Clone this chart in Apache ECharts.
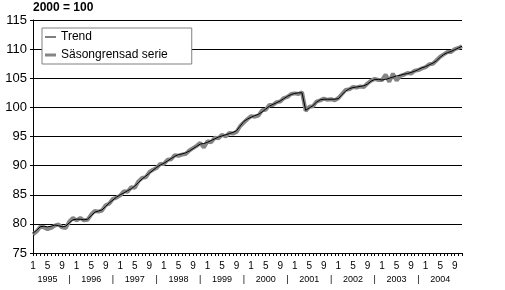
<!DOCTYPE html>
<html>
<head>
<meta charset="utf-8">
<script src="https://cdn.jsdelivr.net/npm/echarts@6/dist/echarts.min.js"></script>
<style>html,body{margin:0;padding:0;background:#fff;}#c{width:505px;height:290px;}</style>
</head>
<body>
<div id="c"></div>
<script>
// Monthly index, 1995/1 .. 2004/11 (2000 = 100)
var startYear = 1995;
var monthCount = 119;
var monthTickLabels = [1, 5, 9];
var yTicks = { min: 75, max: 115, step: 5 };

var trend = [
  78.4, 78.9, 79.5, 79.6, 79.5, 79.6, 79.8, 79.7, 79.5, 79.6, 80.2, 80.7,   // 1995
  80.8, 80.8, 80.7, 80.8, 81.4, 82.0, 82.2, 82.4, 83.0, 83.6, 84.1, 84.6,   // 1996
  85.0, 85.3, 85.7, 86.0, 86.5, 87.1, 87.7, 88.2, 88.7, 89.2, 89.7, 90.1,   // 1997
  90.4, 90.8, 91.2, 91.6, 91.9, 92.0, 92.2, 92.5, 92.9, 93.3, 93.7, 93.8,   // 1998
  94.0, 94.3, 94.6, 94.9, 95.1, 95.3, 95.5, 95.7, 96.0, 96.8, 97.6, 98.0,   // 1999
  98.3, 98.6, 98.8, 99.2, 99.7, 100.2, 100.5, 100.8, 101.1, 101.5, 101.9, 102.2, // 2000
  102.4, 102.5, 102.5, 99.5, 99.9, 100.3, 100.9, 101.3, 101.4, 101.4, 101.4, 101.4, // 2001
  101.5, 102.2, 102.8, 103.2, 103.4, 103.5, 103.6, 103.7, 104.0, 104.5, 104.8, 104.8, // 2002
  104.7, 104.8, 105.0, 105.2, 105.4, 105.5, 105.7, 105.8, 106.0, 106.2, 106.5, 106.8, // 2003
  107.0, 107.3, 107.6, 108.0, 108.6, 109.1, 109.4, 109.6, 109.9, 110.2, 110.5        // 2004
];

var seasonal = [
  78.2, 78.7, 79.5, 79.4, 79.1, 79.3, 79.7, 79.9, 79.4, 79.3, 80.4, 81.0,   // 1995
  80.6, 81.0, 80.6, 80.7, 81.6, 82.2, 82.1, 82.3, 83.2, 83.5, 84.3, 84.5,   // 1996
  84.9, 85.6, 85.5, 86.3, 86.2, 87.3, 87.9, 88.0, 88.9, 89.3, 89.6, 90.3,   // 1997
  90.3, 91.0, 91.1, 91.8, 91.7, 91.9, 92.0, 92.6, 93.0, 93.4, 93.9, 93.1,   // 1998
  94.2, 94.0, 94.8, 94.7, 95.3, 95.0, 95.6, 95.5, 95.8, 96.8, 97.4, 98.0,   // 1999
  98.5, 98.4, 98.6, 99.5, 99.6, 100.4, 100.4, 100.9, 101.0, 101.6, 101.8, 102.3, // 2000
  102.4, 102.3, 102.6, 99.4, 100.1, 100.2, 101.0, 101.2, 101.5, 101.3, 101.4, 101.2, // 2001
  101.6, 102.3, 103.0, 103.1, 103.5, 103.4, 103.6, 103.5, 104.1, 104.6, 104.9, 104.7, // 2002
  104.7, 105.6, 104.4, 105.8, 104.6, 105.4, 105.6, 105.9, 105.8, 106.3, 106.4, 106.7, // 2003
  106.9, 107.4, 107.5, 108.1, 108.7, 109.1, 109.5, 109.5, 110.0, 110.2, 110.5        // 2004
];

var categories = [];
for (var i = 0; i < monthCount; i++) {
  var y = startYear + Math.floor(i / 12), m = (i % 12) + 1;
  categories.push(y + '-' + m);
}
function monthOf(v) { return parseInt(String(v).split('-')[1], 10); }
function yearOf(v) { return String(v).split('-')[0]; }

var chart = echarts.init(document.getElementById('c'), null, { renderer: 'canvas' });
var FONT = 'Liberation Sans, Arial, sans-serif';
chart.setOption({
  animation: false,
  backgroundColor: '#ffffff',
  title: {
    text: '2000 = 100', left: 33, top: 2, padding: 0,
    textStyle: { fontFamily: FONT, fontSize: 12, fontWeight: 'bold', color: '#000' }
  },
  legend: {
    orient: 'vertical', left: 42, top: 28,
    padding: [3, 24, 3, 3],
    itemWidth: 11, itemHeight: 11, itemGap: 6,
    symbolKeepAspect: true,
    borderColor: '#808080', borderWidth: 1, borderRadius: 0,
    backgroundColor: '#ffffff',
    textStyle: { fontFamily: FONT, fontSize: 12, color: '#000' },
    data: [
      { name: 'Trend', icon: 'path://M0,0H11V1H0Z', itemStyle: { color: '#000' } },
      { name: 'Säsongrensad serie', icon: 'path://M0,0H11V3H0Z', itemStyle: { color: '#858585' } }
    ]
  },
  grid: { left: 33, right: 43, top: 20, bottom: 37, outerBoundsMode: 'none' },
  xAxis: [{
    type: 'category', data: categories, boundaryGap: false,
    axisLine: { show: true, lineStyle: { color: '#000', width: 1 } },
    axisTick: { show: true, interval: 0, length: 3, lineStyle: { color: '#000' } },
    axisLabel: {
      interval: function (idx, v) { return monthTickLabels.indexOf(monthOf(v)) >= 0; },
      formatter: function (v) { return String(monthOf(v)); },
      margin: 8, fontFamily: FONT, fontSize: 10, color: '#000', hideOverlap: false
    },
    splitLine: { show: false }
  }, {
    type: 'category', data: categories, boundaryGap: false, position: 'bottom', offset: 13,
    axisLine: { show: false }, axisTick: { show: false },
    axisLabel: {
      interval: function (idx, v) { var m = monthOf(v); return m === 5 || (m === 11 && idx < monthCount - 1); },
      formatter: function (v) { return monthOf(v) === 5 ? yearOf(v) : '|'; },
      margin: 9, fontFamily: FONT, fontSize: 9, color: '#000', hideOverlap: false
    },
    splitLine: { show: false }
  }],
  yAxis: {
    type: 'value', min: yTicks.min, max: yTicks.max, interval: yTicks.step,
    axisLine: { show: true, lineStyle: { color: '#000', width: 1 } },
    axisTick: { show: true, length: 3, lineStyle: { color: '#000' } },
    axisLabel: { margin: 6, fontFamily: FONT, fontSize: 13, color: '#000' },
    splitLine: { show: true, lineStyle: { color: '#000', width: 1 } }
  },
  series: [{
    name: 'Säsongrensad serie', type: 'line', data: seasonal, xAxisIndex: 0,
    symbol: 'none', showSymbol: false,
    lineStyle: { width: 4, color: '#858585' }, itemStyle: { color: '#858585' }, z: 2
  }, {
    name: 'Trend', type: 'line', data: trend, xAxisIndex: 0,
    symbol: 'none', showSymbol: false,
    lineStyle: { width: 1, color: '#000' }, itemStyle: { color: '#000' }, z: 3
  }]
});
</script>
</body>
</html>
